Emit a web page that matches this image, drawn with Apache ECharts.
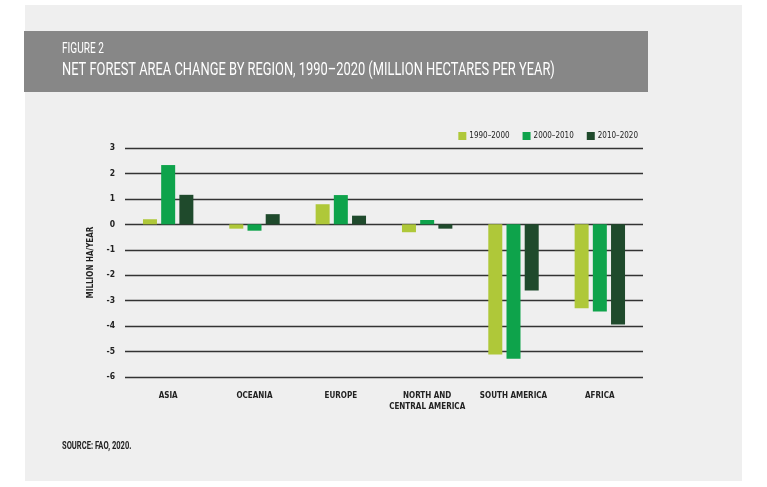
<!DOCTYPE html>
<html>
<head>
<meta charset="utf-8">
<script src="https://cdn.jsdelivr.net/npm/echarts@6/dist/echarts.min.js"></script>
<style>
html,body{margin:0;padding:0;background:#fff;}
#c{width:767px;height:487px;}
</style>
</head>
<body>
<div id="c"></div>
<script>
const categories = ['ASIA', 'OCEANIA', 'EUROPE', 'NORTH AND\nCENTRAL AMERICA', 'SOUTH AMERICA', 'AFRICA'];
const seriesNames = ['1990–2000', '2000–2010', '2010–2020'];
const values1990_2000 = [0.2, -0.17, 0.79, -0.31, -5.12, -3.3];
const values2000_2010 = [2.33, -0.25, 1.15, 0.17, -5.28, -3.43];
const values2010_2020 = [1.16, 0.4, 0.34, -0.17, -2.6, -3.94];
const yTicks = { min: -6, max: 3, interval: 1 };

const FONT = '"DejaVu Sans Condensed","Liberation Sans Narrow","Roboto",sans-serif';
const colors = ['#afc839', '#0ea34b', '#1f4a2c'];

const chart = echarts.init(document.getElementById('c'));
const mk = (name, data, color) => ({
  name, type: 'bar', data, barWidth: 14, barGap: '30%',
  itemStyle: { color }
});
chart.setOption({
  backgroundColor: '#ffffff',
  animation: false,
  graphic: [
    { type: 'rect', z: -10, shape: { x: 25, y: 5, width: 717, height: 476 }, style: { fill: '#efefef' } },
    { type: 'rect', z: -9, shape: { x: 24, y: 31, width: 624, height: 61 }, style: { fill: '#878787' } },
    { type: 'text', x: 62, y: 42, scaleX: 0.72, style: { text: 'FIGURE 2', fill: '#ffffff', font: '14px "Roboto",sans-serif' } },
    { type: 'text', x: 62, y: 61, scaleX: 0.715, style: { text: 'NET FOREST AREA CHANGE BY REGION, 1990–2020 (MILLION HECTARES PER YEAR)', fill: '#ffffff', font: '18px "Roboto",sans-serif' } },
    { type: 'text', x: 62, y: 441, scaleX: 0.72, style: { text: 'SOURCE: FAO, 2020.', fill: '#222222', font: 'bold 10.5px "Roboto",sans-serif' } }
  ],
  legend: {
    data: seriesNames,
    right: 124, top: 127,
    itemWidth: 8, itemHeight: 8, itemGap: 13,
    icon: 'rect',
    textStyle: { fontFamily: FONT, fontSize: 8, color: '#222', padding: [0, 0, 0, -2] }
  },
  grid: { left: 125, right: 124, top: 148, bottom: 110, containLabel: false },
  xAxis: {
    type: 'category', data: categories,
    axisLine: { show: false }, axisTick: { show: false },
    axisLabel: { interval: 0, margin: 13, color: '#222', fontFamily: FONT, fontSize: 8, fontWeight: 'bold', lineHeight: 11 }
  },
  yAxis: {
    type: 'value', min: yTicks.min, max: yTicks.max, interval: yTicks.interval,
    name: 'MILLION HA/YEAR', nameLocation: 'middle', nameRotate: 90, nameGap: 30,
    nameTextStyle: { fontFamily: FONT, fontSize: 8, fontWeight: 'bold', color: '#222' },
    axisLine: { show: false }, axisTick: { show: false },
    axisLabel: { margin: 10, color: '#222', fontFamily: FONT, fontSize: 8.5, fontWeight: 'bold' },
    splitLine: { lineStyle: { color: '#333333', width: 1.3 } }
  },
  series: [
    mk(seriesNames[0], values1990_2000, colors[0]),
    mk(seriesNames[1], values2000_2010, colors[1]),
    mk(seriesNames[2], values2010_2020, colors[2])
  ]
});
</script>
</body>
</html>
